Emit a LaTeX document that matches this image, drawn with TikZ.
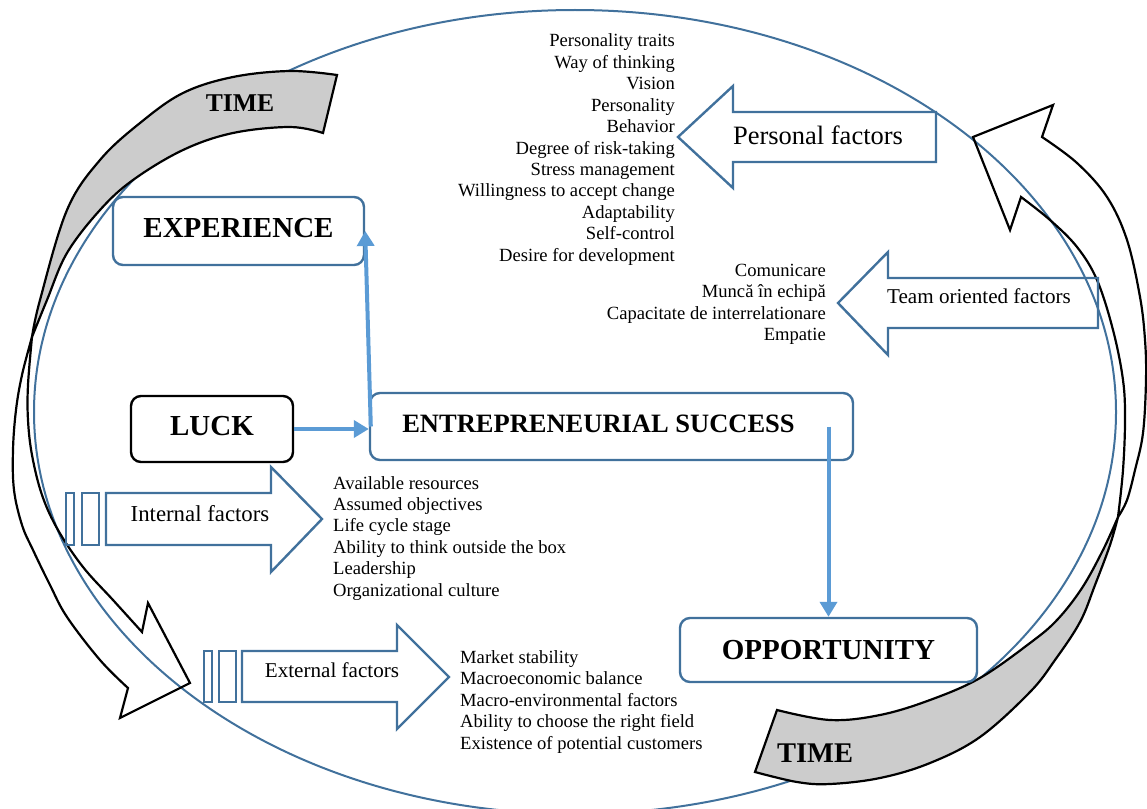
\documentclass[tikz,border=0pt]{standalone}
\usepackage{fontspec}
\setmainfont{Liberation Serif}
\usetikzlibrary{arrows.meta}
\definecolor{boxblue}{RGB}{65,113,156}
\definecolor{linkblue}{RGB}{91,155,213}
\definecolor{bandgrey}{RGB}{204,204,204}
\begin{document}
\begin{tikzpicture}[x=1pt,y=-1pt,
  rbox/.style={draw=boxblue, line width=2.4pt, rounded corners=10pt, fill=white, inner sep=0pt,
    font=\bfseries\fontsize{29}{32}\selectfont},
  kbox/.style={rbox, draw=black},
  link/.style={draw=linkblue, line width=4pt, -{Triangle[length=15pt,width=17pt]}},
  ell/.style={draw=boxblue, line width=2pt},
  blockarrow/.style={draw=boxblue, line width=2.4pt, line join=miter},
  band/.style={draw=black, line width=2.2pt, fill=bandgrey, line join=miter},
  bandline/.style={draw=black, line width=2.2pt, line join=miter},
  listtext/.style={font=\fontsize{18.6}{21.4}\selectfont, inner sep=0pt},
  factortext/.style={inner sep=0pt},
  timetext/.style={font=\bfseries, inner sep=0pt}
]
\useasboundingbox (0,0) rectangle (1147,808);

% big ellipse
\draw[ell] (575,412) ellipse [x radius=541pt, y radius=402pt];

% left TIME curved arrow: grey back part
\path[band] plot[smooth,tension=0.6] coordinates {(337,75) (290,71) (233,77) (183,93) (140,123) (100,160) (67,210) (40,300) (32,337)}
  -- plot[smooth,tension=0.6] coordinates {(32,337) (47,300) (67,253) (100,210) (133,180) (183,150) (233,133) (290,127) (323,133)}
  -- cycle;
% left front part with arrowhead
\path[bandline] plot[smooth,tension=0.6] coordinates {(32,337) (22,375) (16,410) (13,450) (14,490) (22,525) (33,550) (50,585) (67,617) (100,660) (128,688)}
  -- (120,718) -- (190,683) -- (148,603) -- (142,632)
  -- plot[smooth,tension=0.6] coordinates {(142,632) (113,600) (83,567) (58,530) (42,495) (32,455) (28,420) (28,385) (32,337)};

% right TIME curved arrow: grey back part
\path[band] plot[smooth,tension=0.6] coordinates {(1118,517) (1103,550) (1082,588) (1057,620) (1030,643) (980,678) (930,700) (880,715) (830,720) (777,710)}
  -- (755,772)
  -- plot[smooth,tension=0.6] coordinates {(755,772) (797,782) (830,784) (880,778) (930,763) (980,737) (1030,692) (1055,660) (1080,622) (1095,585) (1110,545) (1118,517)}
  -- cycle;
% right front part with arrowhead
\path[bandline] plot[smooth,tension=0.6] coordinates {(1118,517) (1127,500) (1135,470) (1143,433) (1146,380) (1145,340) (1140,297) (1127,240) (1107,197) (1077,163) (1042,137)}
  -- (1053,105) -- (973,137) -- (1010,230) -- (1021,197)
  -- plot[smooth,tension=0.6] coordinates {(1021,197) (1050,220) (1077,247) (1097,280) (1113,330) (1123,380) (1125,420) (1123,470) (1118,517)};

\node[timetext, font=\bfseries\fontsize{25.6}{28}\selectfont] (time1) at (240,103) {TIME};
\node[timetext, font=\bfseries\fontsize{28.5}{31}\selectfont] (time2) at (815,753) {TIME};

% block arrows
\draw[blockarrow] (678,137) -- (733,86) -- (733,112) -- (936,112) -- (936,162) -- (733,162) -- (733,188) -- cycle;
\node[factortext, font=\fontsize{26.5}{30}\selectfont] (personal) at (818,135) {Personal factors};

\draw[blockarrow] (838,303) -- (888,252) -- (888,278) -- (1098,278) -- (1098,328) -- (888,328) -- (888,355) -- cycle;
\node[factortext, font=\fontsize{21.1}{24}\selectfont] (team) at (979,296) {Team oriented factors};

\draw[blockarrow] (66,493) rectangle (74,545);
\draw[blockarrow] (82,493) rectangle (99,545);
\draw[blockarrow] (106,493) -- (271,493) -- (271,467) -- (322,519) -- (271,572) -- (271,545) -- (106,545) -- cycle;
\node[factortext, font=\fontsize{22.8}{26}\selectfont] (internal) at (200,514) {Internal factors};

\draw[blockarrow] (204,651) rectangle (212,702);
\draw[blockarrow] (219,651) rectangle (236,702);
\draw[blockarrow] (242,651) -- (397,651) -- (397,625) -- (449,677) -- (397,729) -- (397,702) -- (242,702) -- cycle;
\node[factortext, font=\fontsize{21.1}{24}\selectfont] (external) at (332,670) {External factors};

% lists
\foreach \t [count=\i from 0] in {Personality traits, Way of thinking, Vision, Personality, Behavior, Degree of risk-taking, Stress management, Willingness to accept change, Adaptability, Self-control, Desire for development}
  \node[listtext, anchor=base east] (p\i) at (675,{47+21.4*\i}) {\t};
\foreach \t [count=\i from 0] in {Comunicare, Muncă în echipă, Capacitate de interrelationare, Empatie}
  \node[listtext, anchor=base east] (t\i) at (826,{276+21.5*\i}) {\t};
\foreach \t [count=\i from 0] in {Available resources, Assumed objectives, Life cycle stage, Ability to think outside the box, Leadership, Organizational culture}
  \node[listtext, anchor=base west] (n\i) at (333,{489+21.4*\i}) {\t};
\foreach \t [count=\i from 0] in {Market stability, Macroeconomic balance, Macro-environmental factors, Ability to choose the right field, Existence of potential customers}
  \node[listtext, anchor=base west] (e\i) at (460,{663+21.5*\i}) {\t};

% main boxes
\node[rbox, minimum width=251pt, minimum height=68pt] (exp) at (238.5,231) {EXPERIENCE\vphantom{g}};
\node[kbox, minimum width=162pt, minimum height=66pt] (luck) at (212,429) {LUCK\vphantom{g}};
\node[rbox, minimum width=483pt, minimum height=67pt, font=\bfseries\fontsize{26.5}{30}\selectfont] (ent) at (611.5,426.5) {ENTREPRENEURIAL SUCCESS\vphantom{g}\hspace*{26pt}};
\node[rbox, minimum width=297pt, minimum height=64pt] (opp) at (828.5,650) {OPPORTUNITY};

% connectors
\draw[link] (luck.east) -- (luck.east -| ent.west);
\draw[link] ([xshift=2pt]ent.west) -- (exp.east);
\draw[link] (ent.center -| opp.north) -- (opp.north);
\end{tikzpicture}
\end{document}
